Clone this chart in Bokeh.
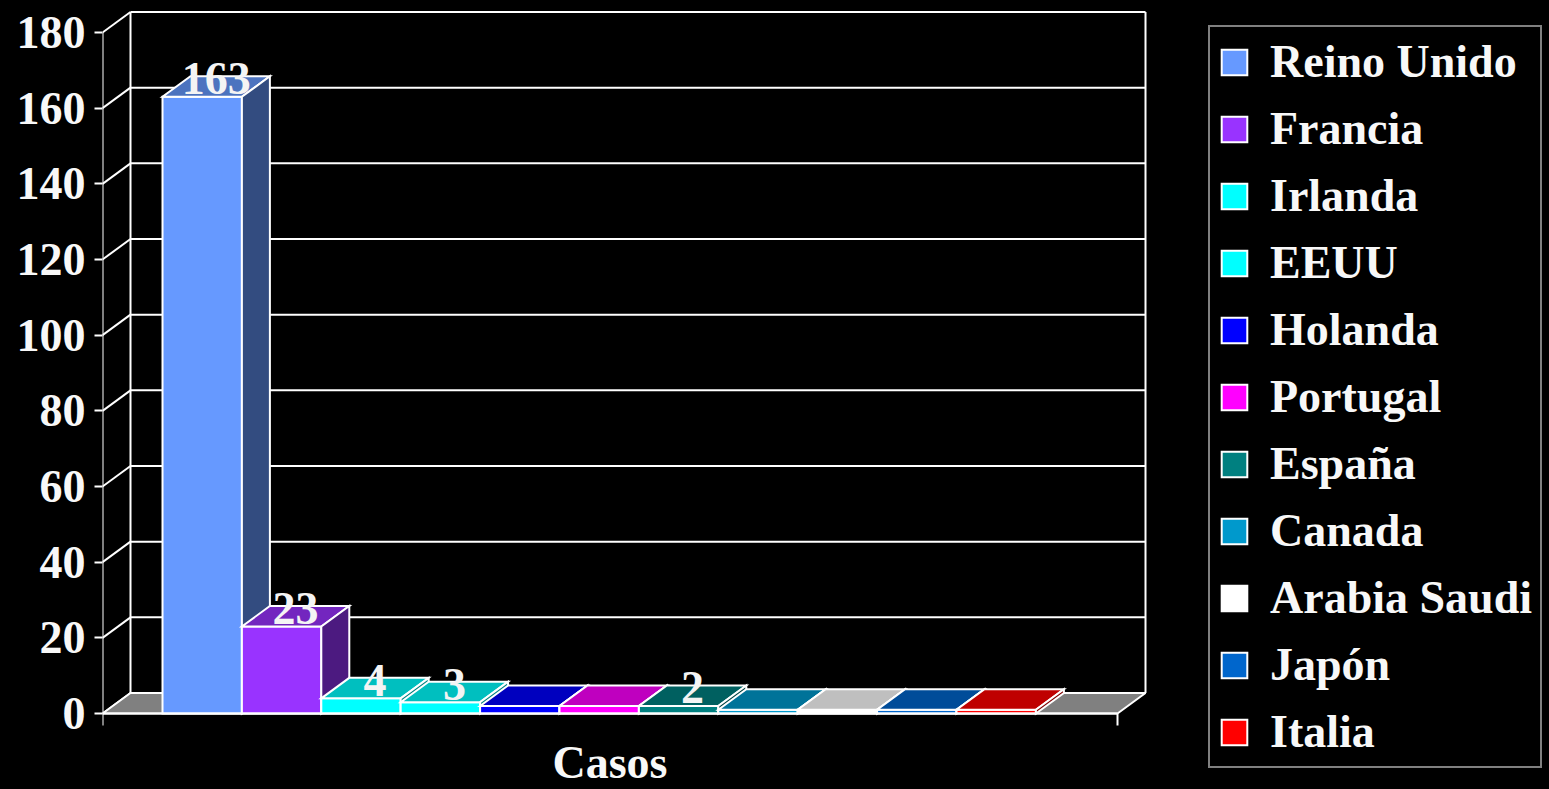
from bokeh.plotting import figure
from bokeh.models import Range1d, FixedTicker, Legend, LegendItem, ColumnDataSource
from bokeh.core.properties import value
from bokeh.embed import file_html
from bokeh.resources import INLINE

# ---------------- data ----------------
countries = ["Reino Unido", "Francia", "Irlanda", "EEUU", "Holanda", "Portugal",
             "España", "Canada", "Arabia Saudi", "Japón", "Italia"]
casos = [163, 23, 4, 3, 2, 2, 2, 1, 1, 1, 1]
data_labels = ["163", "23", "4", "3", "", "", "2", "", "", "", ""]
front_colors = ["#6699FF", "#9933FF", "#00FFFF", "#00FFFF", "#0000FF", "#FF00FF",
                "#008080", "#0099CC", "#FFFFFF", "#0066CC", "#FF0000"]
y_ticks = [0, 20, 40, 60, 80, 100, 120, 140, 160, 180]
x_title = "Casos"

# ---------------- geometry / style ----------------
W, H = 1549, 789
FRAME_LEFT = 102
Y0_PX = 713
PX_PER_VAL = 681 / 180
X0_PX = 162
PX_PER_CAT = 79.4
DX = 28 / PX_PER_CAT
DY = 20.5 / PX_PER_VAL
AXIS_L = (102 - X0_PX) / PX_PER_CAT
AXIS_R = (1117 - X0_PX) / PX_PER_CAT
TICK_DOWN = 12 / PX_PER_VAL
YMAX = y_ticks[-1]
FONT = value("Liberation Serif")
FS = "46px"
LINE = "#FFFFFF"


def shade(h, f):
    h = h.lstrip("#")
    r, g, b = (int(h[i:i + 2], 16) for i in (0, 2, 4))
    return "#%02X%02X%02X" % (round(r * f), round(g * f), round(b * f))


p = figure(width=W, height=H, output_backend="svg", toolbar_location=None,
           x_axis_location=None, y_axis_location="left",
           x_range=Range1d((FRAME_LEFT - X0_PX) / PX_PER_CAT, (W - X0_PX) / PX_PER_CAT),
           y_range=Range1d((Y0_PX - H) / PX_PER_VAL, Y0_PX / PX_PER_VAL),
           min_border_left=FRAME_LEFT, min_border_right=0, min_border_top=0, min_border_bottom=0,
           background_fill_color="black", border_fill_color="black",
           outline_line_color=None, styles={"background-color": "black"})
p.grid.visible = False

ax = p.yaxis[0]
ax.ticker = FixedTicker(ticks=y_ticks)
ax.axis_line_color = None
ax.major_tick_line_color = LINE
ax.major_tick_line_width = 2
ax.major_tick_out = 8
ax.major_tick_in = 0
ax.minor_tick_line_color = None
ax.major_label_text_font = "Liberation Serif"
ax.major_label_text_font_style = "bold"
ax.major_label_text_font_size = FS
ax.major_label_text_color = "#F8F8F8"
ax.major_label_standoff = 9

# ---------------- walls ----------------
x0s, y0s, x1s, y1s = [], [], [], []
for t in y_ticks:
    # back wall gridline
    x0s.append(AXIS_L + DX); y0s.append(t + DY); x1s.append(AXIS_R + DX); y1s.append(t + DY)
    # left wall diagonal
    x0s.append(AXIS_L); y0s.append(t); x1s.append(AXIS_L + DX); y1s.append(t + DY)
# back verticals
x0s += [AXIS_L + DX, AXIS_R + DX]; y0s += [DY, DY]
x1s += [AXIS_L + DX, AXIS_R + DX]; y1s += [YMAX + DY, YMAX + DY]
p.segment(x0s, y0s, x1s, y1s, line_color=LINE, line_width=2)

# floor
p.patch([AXIS_L, AXIS_R, AXIS_R + DX, AXIS_L + DX], [0, 0, DY, DY],
        fill_color="#808080", line_color=LINE, line_width=2)

# ---------------- bars ----------------
items = []
for i, (name, v, c) in enumerate(zip(countries, casos, front_colors)):
    xs = [
        [i, i + 1, i + 1, i],
        [i, i + 1, i + 1 + DX, i + DX],
        [i + 1, i + 1 + DX, i + 1 + DX, i + 1],
    ]
    ys = [
        [0, 0, v, v],
        [v, v, v + DY, v + DY],
        [0, DY, v + DY, v],
    ]
    src = ColumnDataSource(dict(xs=xs, ys=ys, fill=[c, shade(c, 0.75), shade(c, 0.5)]))
    r = p.patches("xs", "ys", source=src, fill_color="fill", line_color=LINE, line_width=2,
                  line_join="miter")
    items.append(LegendItem(label=name, renderers=[r], index=0))

# front axes
p.segment([AXIS_L, AXIS_L, AXIS_R], [-TICK_DOWN, 0, -TICK_DOWN],
          [AXIS_L, AXIS_R, AXIS_R], [YMAX, 0, 0], line_color=LINE, line_width=2)

# data labels
lx = [i + 0.5 + DX / 2 for i in range(len(casos))]
p.text(lx, casos, text=data_labels, text_font=FONT, text_font_style="bold",
       text_font_size=FS, text_color="#F4F4F4", text_align="center",
       text_baseline="middle", y_offset=-18)

# x title
p.text([(AXIS_L + AXIS_R) / 2], [0], text=[x_title], text_font=FONT, text_font_style="bold",
       text_font_size=FS, text_color="#F8F8F8", text_align="center",
       text_baseline="middle", y_offset=49)

legend = Legend(items=items, location=(1106, 21), orientation="vertical",
                glyph_width=32, glyph_height=32, label_standoff=20, padding=8,
                spacing=14, margin=0,
                label_text_font="Liberation Serif", label_text_font_style="bold",
                label_text_font_size=FS, label_text_color="#F8F8F8",
                border_line_color=LINE, border_line_width=2,
                background_fill_color="black", background_fill_alpha=1.0)
p.add_layout(legend)

open("out.html", "w").write(file_html(p, INLINE))
